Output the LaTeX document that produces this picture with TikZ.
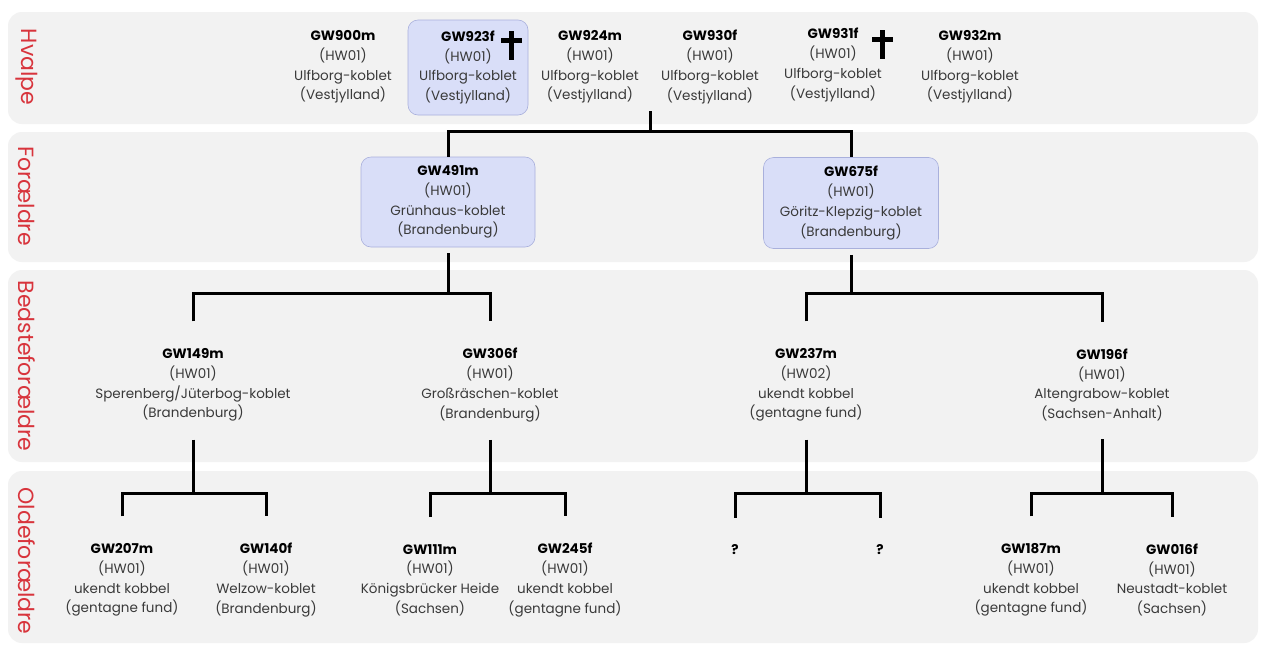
\documentclass[tikz,border=0pt]{standalone}
\usepackage{fontspec}
\setmainfont{Poppins}
\usetikzlibrary{calc}
\definecolor{band}{HTML}{F2F2F2}
\definecolor{lbl}{HTML}{D8343C}
\definecolor{boxfill}{HTML}{D9DEF8}
\definecolor{boxdraw}{HTML}{A9B0DC}
\definecolor{txt}{HTML}{3A3A3A}
\newcommand{\dogtext}[4]{{\color{black}\bfseries #1}\\#2\\#3\\#4}
\begin{document}
\begin{tikzpicture}[x=1pt,y=-1pt,
  bandbox/.style={fill=band, draw=none, rounded corners=14pt},
  rowlabel/.style={text=lbl, rotate=-90, inner sep=0pt, font=\fontsize{22}{24}\selectfont},
  dog/.style={align=center, text=txt, font=\fontsize{13.5}{19.7}\selectfont, inner sep=0pt},
  hl/.style={fill=boxfill, draw=boxdraw, line width=0.6pt, rounded corners=10pt},
  conn/.style={line width=3pt},
  crossline/.style={line width=5pt}
]
\useasboundingbox (0,0) rectangle (1261,646);
\fill[white] (0,0) rectangle (1261,646);
% bands
\fill[bandbox] (8,12) rectangle (1258,124);
\fill[bandbox] (8,132) rectangle (1258,262);
\fill[bandbox] (8,270) rectangle (1258,462);
\fill[bandbox] (8,471) rectangle (1258,643);
% row labels
\node[rowlabel] (l1) at (27,67) {Hvalpe};
\node[rowlabel] (l2) at (27,196) {Forældre};
\node[rowlabel] (l3) at (27,366) {Bedsteforældre};
\node[rowlabel] (l4) at (27,561) {Oldeforældre};
% puppies
\node[dog] (gw900) at (343,67) {\dogtext{GW900m}{(HW01)}{Ulfborg-koblet}{(Vestjylland)}};
\node[dog,hl,minimum width=120pt,minimum height=95pt] (gw923) at (468,67.5) {\dogtext{GW923f}{(HW01)}{Ulfborg-koblet}{(Vestjylland)}};
\node[dog] (gw924) at (590,67) {\dogtext{GW924m}{(HW01)}{Ulfborg-koblet}{(Vestjylland)}};
\node[dog] (gw930) at (710,67) {\dogtext{GW930f}{(HW01)}{Ulfborg-koblet}{(Vestjylland)}};
\node[dog] (gw931) at (833,65) {\dogtext{GW931f}{(HW01)}{Ulfborg-koblet}{(Vestjylland)}};
\node[dog] (gw932) at (970,67) {\dogtext{GW932m}{(HW01)}{Ulfborg-koblet}{(Vestjylland)}};
% crosses
\draw[crossline] (511,31) -- (511,60);
\draw[crossline] (501,40) -- (522,40);
\draw[crossline] (882,30) -- (882,59);
\draw[crossline] (872,39) -- (893,39);
% parents
\node[dog,hl,minimum width=174pt,minimum height=90pt] (gw491) at (448,202) {\dogtext{GW491m}{(HW01)}{Grünhaus-koblet}{(Brandenburg)}};
\node[dog,hl,minimum width=175pt,minimum height=91pt] (gw675) at (851,203) {\dogtext{GW675f}{(HW01)}{Göritz-Klepzig-koblet}{(Brandenburg)}};
% grandparents
\node[dog] (gw149) at (193,385) {\dogtext{GW149m}{(HW01)}{Sperenberg/Jüterbog-koblet}{(Brandenburg)}};
\node[dog] (gw306) at (490,385) {\dogtext{GW306f}{(HW01)}{Großräschen-koblet}{(Brandenburg)}};
\node[dog] (gw237) at (806,385) {\dogtext{GW237m}{(HW02)}{ukendt kobbel}{(gentagne fund)}};
\node[dog] (gw196) at (1102,385) {\dogtext{GW196f}{(HW01)}{Altengrabow-koblet}{(Sachsen-Anhalt)}};
% great-grandparents
\node[dog] (gw207) at (122,580) {\dogtext{GW207m}{(HW01)}{ukendt kobbel}{(gentagne fund)}};
\node[dog] (gw140) at (266,580) {\dogtext{GW140f}{(HW01)}{Welzow-koblet}{(Brandenburg)}};
\node[dog] (gw111) at (430,580) {\dogtext{GW111m}{(HW01)}{Königsbrücker Heide}{(Sachsen)}};
\node[dog] (gw245) at (565,580) {\dogtext{GW245f}{(HW01)}{ukendt kobbel}{(gentagne fund)}};
\node[dog,font=\fontsize{13.5}{19.7}\selectfont\bfseries,text=black] (q1) at (735,550) {?};
\node[dog,font=\fontsize{13.5}{19.7}\selectfont\bfseries,text=black] (q2) at (880,550) {?};
\node[dog] (gw187) at (1031,580) {\dogtext{GW187m}{(HW01)}{ukendt kobbel}{(gentagne fund)}};
\node[dog] (gw016) at (1172,580) {\dogtext{GW016f}{(HW01)}{Neustadt-koblet}{(Sachsen)}};
% connectors
\coordinate (litter) at (650,111);
\coordinate (b0) at (650,131);
\draw[conn] (litter) -- (b0);
\draw[conn] (gw491.north) -- (gw491.north |- b0) -- (gw675.north |- b0) -- (gw675.north);
\coordinate (b1) at (443,293);
\coordinate (b2) at (851,293);
\draw[conn] ([yshift=-6pt]gw491.south) -- (gw491.south |- b1);
\draw[conn] ([yshift=27pt]gw149.north) -- (gw149.north |- b1) -- (gw306.north |- b1) -- ([yshift=27pt]gw306.north);
\draw[conn] ([yshift=-6pt]gw675.south) -- (gw675.south |- b2);
\draw[conn] ([yshift=27pt]gw237.north) -- (gw237.north |- b2) -- (gw196.north |- b2) -- ([yshift=27pt]gw196.north);
\coordinate (b3) at (0,493);
\draw[conn] ([yshift=-18pt]gw149.south) -- (gw149.south |- b3);
\draw[conn] ([yshift=27pt]gw207.north) -- (gw207.north |- b3) -- (gw140.north |- b3) -- ([yshift=27pt]gw140.north);
\draw[conn] ([yshift=-18pt]gw306.south) -- (gw306.south |- b3);
\draw[conn] ([yshift=27pt]gw111.north) -- (gw111.north |- b3) -- (gw245.north |- b3) -- ([yshift=27pt]gw245.north);
\draw[conn] ([yshift=-18pt]gw237.south) -- (gw237.south |- b3);
\draw[conn] ([yshift=27pt]q1.north) -- (q1.north |- b3) -- (q2.north |- b3) -- ([yshift=27pt]q2.north);
\draw[conn] ([yshift=-18pt]gw196.south) -- (gw196.south |- b3);
\draw[conn] ([yshift=27pt]gw187.north) -- (gw187.north |- b3) -- (gw016.north |- b3) -- ([yshift=27pt]gw016.north);
\end{tikzpicture}
\end{document}
